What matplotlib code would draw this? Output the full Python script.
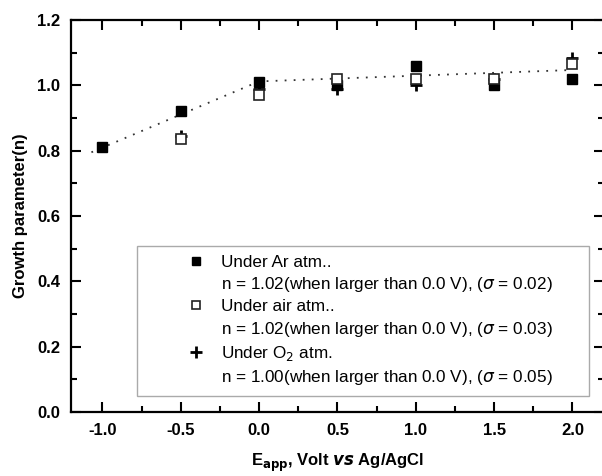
import matplotlib
matplotlib.use('Agg')
import matplotlib.pyplot as plt
from matplotlib.lines import Line2D
from matplotlib.patches import Rectangle
from matplotlib.ticker import MultipleLocator

plt.rcParams['font.family'] = ['Liberation Sans', 'DejaVu Sans']
plt.rcParams['axes.unicode_minus'] = False

# data
e_app = [-1.0, -0.5, 0.0, 0.5, 1.0, 1.5, 2.0]
n_ar = [0.81, 0.92, 1.01, 1.00, 1.06, 1.00, 1.02]
e_air = [-0.5, 0.0, 0.5, 1.0, 1.5, 2.0]
n_air = [0.835, 0.97, 1.02, 1.02, 1.02, 1.065]
e_o2 = [-0.5, 0.0, 0.5, 1.0, 1.5, 2.0]
n_o2 = [0.845, 0.99, 0.99, 1.00, 1.02, 1.085]
# dotted guide line (two linear pieces)
fit_x = [-1.07, 0.0, 2.0]
fit_y = [0.795, 1.012, 1.047]

legend_lines = [
    'Under Ar atm..',
    'n = 1.02(when larger than 0.0 V), ($\\sigma$ = 0.02)',
    'Under air atm..',
    'n = 1.02(when larger than 0.0 V), ($\\sigma$ = 0.03)',
    'Under O$_2$ atm.',
    'n = 1.00(when larger than 0.0 V), ($\\sigma$ = 0.05)',
]

fig = plt.figure(figsize=(6.02, 4.76), dpi=100)
ax = fig.add_axes([0.118, 0.1345, 0.885, 0.8235])

ax.plot(fit_x, fit_y, ls=(0, (1, 4)), color='#333333', lw=1.3, zorder=1)
h_ar, = ax.plot(e_app, n_ar, 's', ms=7, color='black', zorder=3)
h_air, = ax.plot(e_air, n_air, 's', ms=7, mfc='white', mec='#222222', mew=1.2, zorder=4)
h_o2, = ax.plot(e_o2, n_o2, '+', ms=9, mew=2, color='black', zorder=2)

ax.set_xlim(-1.2, 2.2)
ax.set_ylim(0.0, 1.2)
ax.xaxis.set_major_locator(MultipleLocator(0.5))
ax.xaxis.set_minor_locator(MultipleLocator(0.25))
ax.yaxis.set_major_locator(MultipleLocator(0.2))
ax.yaxis.set_minor_locator(MultipleLocator(0.1))
ax.tick_params(which='both', direction='in', top=True, right=True, width=1.5)
ax.tick_params(which='major', length=7, labelsize=12, pad=8)
ax.tick_params(which='minor', length=4)
for lab in ax.get_xticklabels() + ax.get_yticklabels():
    lab.set_fontweight('bold')
for sp in ax.spines.values():
    sp.set_linewidth(1.6)

ax.set_xlabel('E$_{\\mathbf{app}}$, Volt $\\mathbfit{vs}$ Ag/AgCl', fontsize=12,
              fontweight='bold', labelpad=10)
ax.set_ylabel('Growth parameter(n)', fontsize=12, fontweight='bold', labelpad=6)

# legend box drawn separately, wider than its content like the original
ax.add_patch(Rectangle((0.124, 0.041), 0.848, 0.382, transform=ax.transAxes,
                       facecolor='white', edgecolor='#aaaaaa', lw=1.0, zorder=5))
blank = Line2D([], [], ls='none', marker='none')
handles = [h_ar, blank, h_air, blank, h_o2, blank]
leg = ax.legend(handles, legend_lines, loc='upper left',
                bbox_to_anchor=(0.218, 0.40), fontsize=12.3, frameon=False,
                handlelength=1.0, handletextpad=1.0, labelspacing=0.3,
                borderpad=0, borderaxespad=0)
leg.set_zorder(6)
lh = leg.legend_handles
lh[0].set_markersize(5.5)
lh[2].set_markersize(5.5)
lh[4].set_markersize(8)

fig.savefig('out.png', dpi=100)
